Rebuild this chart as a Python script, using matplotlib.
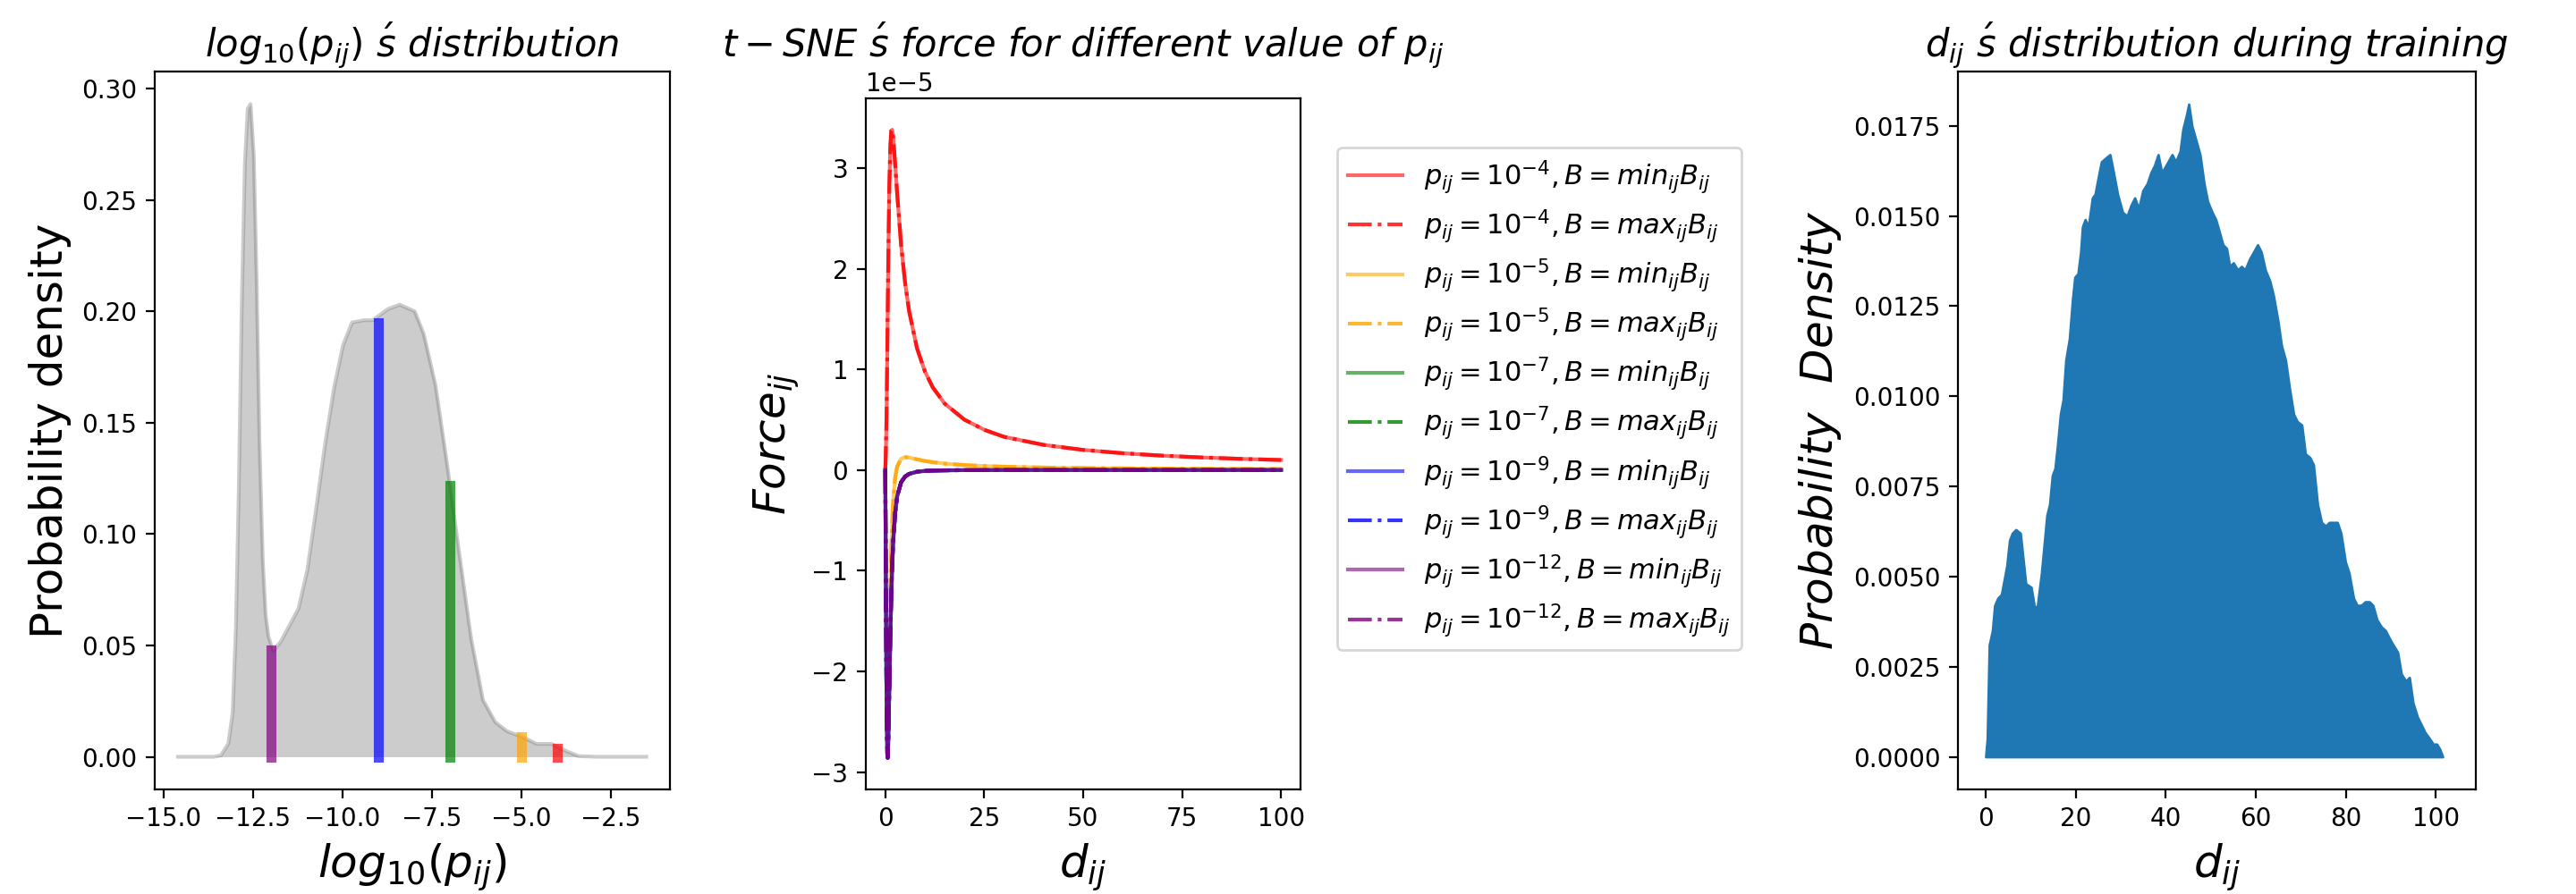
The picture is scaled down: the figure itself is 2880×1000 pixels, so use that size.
import numpy as np
import matplotlib
matplotlib.use("Agg")
import matplotlib.pyplot as plt

# left panel: density of log10(p_ij)
logp_x = [-14.6, -13.82, -13.6, -13.4, -13.19, -13.07, -12.98, -12.9, -12.82, -12.73,
          -12.65, -12.57, -12.48, -12.4, -12.32, -12.23, -12.15, -12.07, -11.94,
          -11.73, -11.48, -11.23, -10.98, -10.73, -10.48, -10.23, -9.98, -9.73,
          -9.4, -9.15, -8.73, -8.4, -7.98, -7.73, -7.4, -7.07, -6.73, -6.4, -6.07,
          -5.73, -5.4, -4.98, -4.57, -4.15, -3.73, -3.4, -2.9, -1.5]
logp_density = [0.0, 0.0, 0.0, 0.0006, 0.006, 0.020, 0.058, 0.12, 0.2, 0.266,
                0.291, 0.293, 0.27, 0.214, 0.141, 0.089, 0.064, 0.054, 0.0475,
                0.0516, 0.059, 0.0666, 0.084, 0.112, 0.141, 0.166, 0.185, 0.195,
                0.196, 0.196, 0.201, 0.203, 0.2, 0.19, 0.167, 0.131, 0.091, 0.053,
                0.0255, 0.0156, 0.0115, 0.009, 0.0058, 0.0058, 0.0025, 0.0003, 0.0, 0.0]

# highlighted p_ij values
mark_x = [-12, -9, -7, -5, -4]
mark_h = [0.048, 0.195, 0.122, 0.009, 0.004]
mark_colors = ['purple', 'blue', 'green', 'orange', 'red']

# middle panel: force curves (units of 1e-5)
force_d = [0, 0.1, 0.25, 0.35, 0.5, 0.6, 0.75, 1, 1.25, 1.5, 1.75, 2, 2.5, 3, 4, 5,
           6, 8, 10, 12, 15, 20, 25, 30, 40, 50, 60, 70, 80, 90, 100]
force_p4 = [0, 0.13, 0.40, 0.67, 1.18, 1.56, 2.10, 2.80, 3.20, 3.37, 3.38, 3.30,
            3.03, 2.74, 2.23, 1.86, 1.58, 1.21, 0.98, 0.82, 0.66, 0.50, 0.40, 0.33,
            0.25, 0.20, 0.167, 0.143, 0.125, 0.111, 0.10]
force_p5 = [0, -0.76, -1.71, -2.13, -2.42, -2.41, -2.22, -1.70, -1.19, -0.79, -0.50,
            -0.30, -0.07, 0.036, 0.113, 0.127, 0.124, 0.106, 0.090, 0.078, 0.064,
            0.049, 0.040, 0.033, 0.025, 0.020, 0.017, 0.014, 0.0125, 0.011, 0.010]
force_p7 = [0, -0.86, -1.95, -2.44, -2.81, -2.85, -2.70, -2.19, -1.67, -1.25, -0.93,
            -0.70, -0.42, -0.26, -0.12, -0.063, -0.037, -0.015, -0.008, -0.004,
            -0.002, -0.001, 0.0, 0.0, 0.0, 0.0, 0.0, 0.0, 0.0, 0.0, 0.0]
force_p9 = [0, -0.86, -1.95, -2.44, -2.82, -2.86, -2.70, -2.20, -1.68, -1.25, -0.93,
            -0.70, -0.42, -0.26, -0.12, -0.065, -0.039, -0.017, -0.009, -0.005,
            -0.003, -0.001, -0.001, 0.0, 0.0, 0.0, 0.0, 0.0, 0.0, 0.0, 0.0]
force_p12 = [0, -0.86, -1.95, -2.44, -2.82, -2.86, -2.70, -2.20, -1.68, -1.25, -0.93,
             -0.70, -0.42, -0.26, -0.12, -0.065, -0.039, -0.017, -0.009, -0.005,
             -0.003, -0.001, -0.001, 0.0, 0.0, 0.0, 0.0, 0.0, 0.0, 0.0, 0.0]
force_exps = ['-4', '-5', '-7', '-9', '-12']
force_colors = ['red', 'orange', 'green', 'blue', 'purple']

# right panel: d_ij density during training
dist_x = [0, 0.35, 0.8, 1.5, 2, 2.7, 3.5, 4.1, 4.7, 5.3, 5.9, 6.7, 7.7, 8.3, 8.9,
          10.1, 10.9, 11.5, 12.4, 13, 13.6, 14.2, 14.8, 15.4, 16, 16.6, 17.2, 17.8,
          18.6, 19.3, 19.8, 20.5, 21.1, 21.5, 22.1, 22.8, 23.7, 24.3, 24.9, 25.7,
          26.6, 27.6, 28.4, 29.3, 30.4, 31.4, 32.3, 33.1, 34, 34.9, 35.9, 36.7,
          37.5, 38.3, 39.1, 39.6, 40.5, 41.4, 42.2, 43.2, 43.8, 44.6, 45.1, 45.8,
          46.7, 47.6, 48.5, 49.3, 50.3, 51.1, 51.8, 52.7, 53.5, 54.2, 55, 56, 56.8,
          57.6, 58.6, 59.5, 60.4, 61.2, 62.1, 63.1, 63.9, 64.9, 65.7, 66.6, 67.5,
          68.4, 69.2, 70.2, 71, 72, 72.8, 73.7, 74.6, 75.5, 76.3, 77.3, 78.1, 78.9,
          79.9, 80.7, 81.7, 82.5, 83.4, 84.3, 85.2, 86, 86.9, 87.9, 88.8, 89.6,
          90.5, 91.5, 92.3, 93.3, 94.1, 94.9, 95.9, 96.7, 97.6, 98.6, 99.4, 100.2,
          100.9, 101.5]
dist_density = [0, 0.0005, 0.0031, 0.0035, 0.0042, 0.0044, 0.0045, 0.0049, 0.0053,
                0.006, 0.0062, 0.0063, 0.0062, 0.0055, 0.0048, 0.0047, 0.0041, 0.0042,
                0.0051, 0.0059, 0.0067, 0.007, 0.0078, 0.008, 0.0087, 0.0095, 0.0099,
                0.011, 0.0116, 0.0127, 0.0133, 0.0134, 0.014, 0.0147, 0.0149, 0.0147,
                0.0155, 0.0156, 0.016, 0.0165, 0.0166, 0.0167, 0.0162, 0.0156, 0.0151,
                0.015, 0.0153, 0.0155, 0.0152, 0.0157, 0.0159, 0.0162, 0.0164, 0.0167,
                0.0162, 0.0163, 0.0165, 0.0167, 0.0165, 0.0168, 0.0174, 0.0178, 0.0181,
                0.0175, 0.0171, 0.0167, 0.0159, 0.0154, 0.0151, 0.0149, 0.0146, 0.0142,
                0.0141, 0.0136, 0.0137, 0.0135, 0.0136, 0.0135, 0.0138, 0.014, 0.0142,
                0.014, 0.0135, 0.0132, 0.0128, 0.0121, 0.0114, 0.011, 0.0102, 0.0095,
                0.0093, 0.0092, 0.0084, 0.0083, 0.0081, 0.007, 0.0065, 0.0064, 0.0065,
                0.0065, 0.0065, 0.0062, 0.0054, 0.0051, 0.0044, 0.0042, 0.0042, 0.0043,
                0.0043, 0.0042, 0.0038, 0.0036, 0.0035, 0.0033, 0.0031, 0.0029, 0.0023,
                0.0021, 0.0022, 0.0015, 0.0011, 0.0009, 0.00067, 0.0005, 0.00035,
                0.00035, 0.0002, 0.0]

fig = plt.figure(figsize=(14.4, 5), dpi=200)
ax1 = fig.add_axes([0.060, 0.117, 0.200, 0.803])
ax2 = fig.add_axes([0.336, 0.117, 0.169, 0.773])
ax3 = fig.add_axes([0.760, 0.117, 0.201, 0.803])

# --- left
ax1.fill_between(logp_x, logp_density, color='gray', alpha=0.4, linewidth=0)
ax1.plot(logp_x, logp_density, color='gray', alpha=0.4, linewidth=1.5)
for x, h, c in zip(mark_x, mark_h, mark_colors):
    ax1.plot([x, x], [0, h], color=c, alpha=0.7, linewidth=4)
ax1.set_title(r'$log_{10}(p_{ij})\ \acute{s}\ distribution$', fontsize=15)
ax1.set_xlabel(r'$log_{10}(p_{ij})$', fontsize=18)
ax1.set_ylabel('Probability density', fontsize=18)

# --- middle
scale = 1e-5
curves = [force_p4, force_p5, force_p7, force_p9, force_p12]
for vals, e, c in zip(curves, force_exps, force_colors):
    y = np.array(vals) * scale
    ax2.plot(force_d, y, color=c, alpha=0.6, linewidth=1.5,
             label=r'$p_{ij}=10^{%s},B=min_{ij}B_{ij}$' % e)
    ax2.plot(force_d, y, color=c, alpha=0.8, linewidth=1.5, linestyle='-.',
             label=r'$p_{ij}=10^{%s},B=max_{ij}B_{ij}$' % e)
ax2.set_title(r'$t-SNE\ \acute{s}\ force\ for\ different\ value\ of\ p_{ij}$', fontsize=15)
ax2.set_xlabel(r'$d_{ij}$', fontsize=18)
ax2.set_ylabel(r'$Force_{ij}$', fontsize=18)
ax2.set_xticks([0, 25, 50, 75, 100])
ax2.legend(loc='upper left', bbox_to_anchor=(0.519, 0.835),
           bbox_transform=fig.transFigure, borderaxespad=0, fontsize=11,
           labelspacing=0.45)

# --- right
ax3.fill_between(dist_x, dist_density, color='C0')
ax3.set_xlim(-6.2, 108.8)
ax3.set_title(r'$d_{ij}\ \acute{s}\ distribution\ during\ training$', fontsize=15)
ax3.set_xlabel(r'$d_{ij}$', fontsize=18)
ax3.set_ylabel(r'$Probability\ \ Density$', fontsize=18)

fig.savefig('out.png', dpi=200)
